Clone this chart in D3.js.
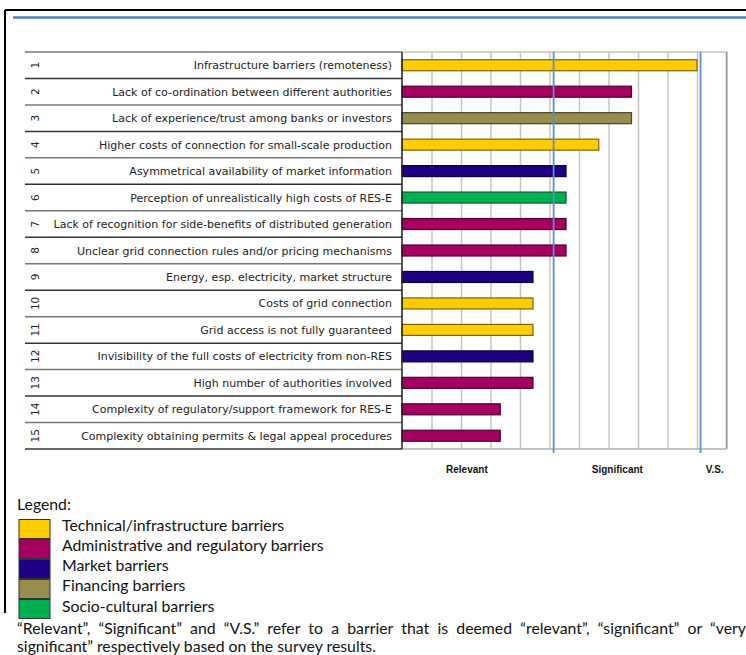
<!DOCTYPE html>
<html>
<head>
<meta charset="utf-8">
<script src="https://cdn.jsdelivr.net/npm/d3@7"></script>
<style>
  body { margin: 0; background: #fff; }
  svg { display: block; }
</style>
</head>
<body>
<div id="chart"></div>
<script>
// Barriers, share of respondents (%) and barrier type
var barriers = [
  "Infrastructure barriers (remoteness)",
  "Lack of co-ordination between different authorities",
  "Lack of experience/trust among banks or investors",
  "Higher costs of connection for small-scale production",
  "Asymmetrical availability of market information",
  "Perception of unrealistically high costs of RES-E",
  "Lack of recognition for side-benefits of distributed generation",
  "Unclear grid connection rules and/or pricing mechanisms",
  "Energy, esp. electricity, market structure",
  "Costs of grid connection",
  "Grid access is not fully guaranteed",
  "Invisibility of the full costs of electricity from non-RES",
  "High number of authorities involved",
  "Complexity of regulatory/support framework for RES-E",
  "Complexity obtaining permits & legal appeal procedures"
];
var scores = [100, 77.8, 77.8, 66.7, 55.6, 55.6, 55.6, 55.6, 44.4, 44.4, 44.4, 44.4, 44.4, 33.3, 33.3];
var types = ["tech", "admin", "fin", "tech", "market", "socio", "admin", "admin",
             "market", "tech", "tech", "market", "admin", "admin", "admin"];

var typeKeys = ["tech", "admin", "market", "fin", "socio"];
var typeNames = ["Technical/infrastructure barriers", "Administrative and regulatory barriers",
                 "Market barriers", "Financing barriers", "Socio-cultural barriers"];
var typeFill = ["#FFCC00", "#A50060", "#1E0082", "#978D4E", "#00B050"];
var typeStroke = ["#7a6400", "#4d0030", "#0a0040", "#4a4420", "#006030"];

// level thresholds and labels
var thresholds = [51.4, 101.2];
var levelNames = ["Relevant", "Significant", "V.S."];
var levelPos = [22, 73, 106];

var W = 746, H = 655;
var svg = d3.select("#chart").append("svg").attr("width", W).attr("height", H);

// page frame
svg.append("line").attr("x1", 5).attr("x2", W).attr("y1", 10).attr("y2", 10)
  .attr("stroke", "#000").attr("stroke-width", 2);
svg.append("line").attr("x1", 5).attr("x2", 5).attr("y1", 10).attr("y2", 613)
  .attr("stroke", "#000").attr("stroke-width", 2);
svg.append("line").attr("x1", 13).attr("x2", W).attr("y1", 17.5).attr("y2", 17.5)
  .attr("stroke", "#4F81BD").attr("stroke-width", 2.5);

var plotTop = 52, plotBottom = 449, plotLeft = 402, plotRight = 726.5;

var y = d3.scaleBand().domain(d3.range(barriers.length)).range([plotTop, plotBottom]);
var x = d3.scaleLinear().domain([0, 110]).range([plotLeft, plotRight]);
var color = d3.scaleOrdinal().domain(typeKeys).range(typeFill);
var stroke = d3.scaleOrdinal().domain(typeKeys).range(typeStroke);

// grid
var grid = svg.append("g").attr("transform", `translate(0,${plotBottom})`)
  .call(d3.axisBottom(x).tickValues(d3.range(10, 111, 10)).tickSize(-(plotBottom - plotTop)).tickFormat(""));
grid.select(".domain").remove();
grid.selectAll(".tick line").attr("stroke", "#c4c4c4").attr("stroke-width", 1.5);
svg.append("line").attr("x1", plotLeft).attr("x2", plotRight).attr("y1", plotTop).attr("y2", plotTop)
  .attr("stroke", "#c4c4c4").attr("stroke-width", 1.5);
svg.append("line").attr("x1", plotLeft).attr("x2", plotRight).attr("y1", plotBottom).attr("y2", plotBottom)
  .attr("stroke", "#b0b0b0").attr("stroke-width", 1.5);
svg.append("line").attr("x1", plotRight).attr("x2", plotRight).attr("y1", plotTop).attr("y2", plotBottom)
  .attr("stroke", "#999").attr("stroke-width", 1.5);

// table rows
var rows = svg.append("g");
rows.selectAll("line.sep")
  .data(d3.range(barriers.length + 1))
  .enter().append("line")
  .attr("x1", 25).attr("x2", plotLeft)
  .attr("y1", d => d < barriers.length ? y(d) : plotBottom)
  .attr("y2", d => d < barriers.length ? y(d) : plotBottom)
  .attr("stroke", (d, i) => i % 2 == 0 ? "#777" : "#333")
  .attr("stroke-width", 1.5);

rows.selectAll("text.num")
  .data(barriers)
  .enter().append("text")
  .attr("transform", (d, i) => `translate(39,${y(i) + y.bandwidth() / 2}) rotate(-90)`)
  .attr("text-anchor", "middle")
  .attr("font-family", "DejaVu Sans, sans-serif")
  .attr("font-size", 10.5)
  .attr("fill", "#222")
  .text((d, i) => i + 1);

rows.selectAll("text.lab")
  .data(barriers)
  .enter().append("text")
  .attr("x", 392)
  .attr("y", (d, i) => y(i) + y.bandwidth() / 2 + 4)
  .attr("text-anchor", "end")
  .attr("font-family", "DejaVu Sans, sans-serif")
  .attr("font-size", 11)
  .attr("fill", "#222")
  .text(d => d);

// bars
svg.selectAll("rect.bar")
  .data(scores)
  .enter().append("rect")
  .attr("x", x(0))
  .attr("y", (d, i) => y(i) + y.bandwidth() / 2 - 5.5)
  .attr("width", d => x(d) - x(0))
  .attr("height", 11)
  .attr("fill", (d, i) => color(types[i]))
  .attr("stroke", (d, i) => stroke(types[i]))
  .attr("stroke-width", 1.2);

svg.append("line").attr("x1", plotLeft).attr("x2", plotLeft).attr("y1", plotTop).attr("y2", plotBottom)
  .attr("stroke", "#222").attr("stroke-width", 1.5);

// thresholds
svg.selectAll("line.thr")
  .data(thresholds)
  .enter().append("line")
  .attr("x1", d => x(d)).attr("x2", d => x(d))
  .attr("y1", plotTop).attr("y2", plotBottom + 4)
  .attr("stroke", "#5B8FD0").attr("stroke-width", 1.8);

svg.selectAll("text.level")
  .data(levelNames)
  .enter().append("text")
  .attr("x", (d, i) => x(levelPos[i]))
  .attr("y", 472.5)
  .attr("text-anchor", "middle")
  .attr("font-family", "Liberation Sans, Arial, sans-serif")
  .attr("font-weight", "bold")
  .attr("font-size", 10)
  .attr("fill", "#111")
  .text(d => d);

// legend
var lg = svg.append("g").attr("font-family", "Lato, Liberation Sans, sans-serif")
  .attr("font-size", 15.8).attr("fill", "#111");
lg.append("text").attr("x", 17).attr("y", 510).text("Legend:");
lg.selectAll("rect")
  .data(typeKeys)
  .enter().append("rect")
  .attr("x", 19).attr("y", (d, i) => 519.5 + i * 20)
  .attr("width", 31).attr("height", 19)
  .attr("fill", d => color(d))
  .attr("stroke", "#333").attr("stroke-width", 1);
lg.selectAll("text.item")
  .data(typeNames)
  .enter().append("text")
  .attr("x", 62).attr("y", (d, i) => 530.5 + i * 20.3)
  .text(d => d);

var l1 = lg.append("text").attr("x", 17).attr("y", 634)
  .text("\u201cRelevant\u201d, \u201cSignificant\u201d and \u201cV.S.\u201d refer to a barrier that is deemed \u201crelevant\u201d, \u201csignificant\u201d or \u201cvery");
var natural = l1.node().getComputedTextLength();
var gaps = l1.text().split(" ").length - 1;
l1.attr("word-spacing", Math.max(0, (W - 17 - natural) / gaps));
lg.append("text").attr("x", 17).attr("y", 652)
  .text("significant\u201d respectively based on the survey results.");
</script>
</body>
</html>
